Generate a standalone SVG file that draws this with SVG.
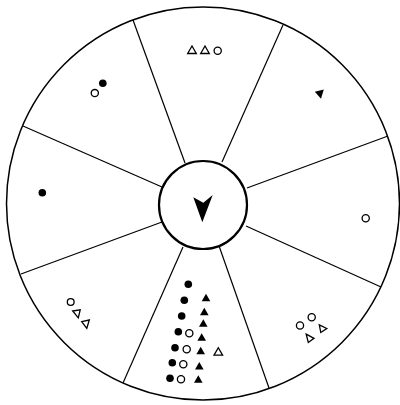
<svg xmlns="http://www.w3.org/2000/svg" xmlns:xlink="http://www.w3.org/1999/xlink" width="400" height="405" viewBox="0 0 400 405">
<style>
.ring{fill:none;stroke:#000;stroke-width:1.5}
.hub{fill:#fff;stroke:#000;stroke-width:2.2}
.spoke{stroke:#000;stroke-width:1.2;fill:none}
.fc{fill:#000}
.oc{fill:#fff;stroke:#000;stroke-width:1.3}
.ft{fill:#000}
.ot{fill:#fff;stroke:#000;stroke-width:1.3;stroke-linejoin:miter}
</style>
<defs>
<path id="tri" d="M-4.3,3.5 L4.3,3.5 L0,-4 Z"/>
</defs>
<rect width="400" height="405" fill="#fff"/>
<g id="wheel">
<circle class="ring" cx="203" cy="203.5" r="196.5"/>
</g>
<g id="connectors">
<line class="spoke" x1="185" y1="163" x2="133" y2="20"/>
<line class="spoke" x1="222" y1="162" x2="283" y2="25"/>
<line class="spoke" x1="247" y1="188" x2="388" y2="136"/>
<line class="spoke" x1="246" y1="226" x2="381" y2="287"/>
<line class="spoke" x1="218" y1="243" x2="269" y2="388"/>
<line class="spoke" x1="183" y1="247" x2="123" y2="383"/>
<line class="spoke" x1="162" y1="222" x2="21" y2="274"/>
<line class="spoke" x1="162" y1="187" x2="23" y2="126"/>
</g>
<g id="hub">
<circle class="hub" cx="203" cy="205" r="44"/>
<path d="M193.3,197.3 L203.3,202.7 L212.7,195 L202.3,222.3 Z" fill="#000"/>
</g>
<g id="sector-top">
<use href="#tri" class="ot" x="192" y="50"/>
<use href="#tri" class="ot" x="205" y="50"/>
<circle class="oc" cx="217.7" cy="50.8" r="3.6"/>
</g>
<g id="sector-top-right">
<path class="ft" d="M314.8,91.7 L323.8,89.6 L321,98.8 Z"/>
</g>
<g id="sector-right">
<circle class="oc" cx="365.7" cy="218.3" r="3.6"/>
</g>
<g id="sector-bottom-right">
<circle class="oc" cx="300" cy="325.5" r="3.6"/>
<circle class="oc" cx="311.7" cy="317.3" r="3.6"/>
<path class="ot" d="M319.3,324.8 L326.8,328.5 L320.8,332.5 Z"/>
<path class="ot" d="M306.2,334.2 L314,338.3 L308.3,342.5 Z"/>
</g>
<g id="sector-bottom">
<circle class="fc" cx="188.3" cy="284.3" r="3.8"/>
<circle class="fc" cx="184.3" cy="300.3" r="3.8"/>
<circle class="fc" cx="181.7" cy="316" r="3.8"/>
<circle class="fc" cx="178.3" cy="331.7" r="3.8"/>
<circle class="fc" cx="175" cy="347.7" r="3.8"/>
<circle class="fc" cx="172.3" cy="362.7" r="3.8"/>
<circle class="fc" cx="170" cy="378.3" r="3.8"/>
<circle class="oc" cx="189.3" cy="333.3" r="3.6"/>
<circle class="oc" cx="186.7" cy="349.3" r="3.6"/>
<circle class="oc" cx="183.3" cy="364.3" r="3.6"/>
<circle class="oc" cx="181" cy="379.3" r="3.6"/>
<use href="#tri" class="ft" x="206" y="297.7"/>
<use href="#tri" class="ft" x="204.3" y="311.7"/>
<use href="#tri" class="ft" x="203.3" y="323.3"/>
<use href="#tri" class="ft" x="201.7" y="337.3"/>
<use href="#tri" class="ft" x="200.7" y="350.7"/>
<use href="#tri" class="ft" x="199.3" y="366"/>
<use href="#tri" class="ft" x="198.3" y="379.3"/>
<use href="#tri" class="ot" x="218.3" y="351.7"/>
</g>
<g id="sector-bottom-left">
<circle class="oc" cx="70.7" cy="302" r="3.4"/>
<path class="ot" d="M72.7,311 L80.2,309.8 L78.3,317.8 Z"/>
<path class="ot" d="M81.7,321.7 L89.3,320 L86.8,328.3 Z"/>
</g>
<g id="sector-left">
<circle class="fc" cx="42.3" cy="192.7" r="3.8"/>
</g>
<g id="sector-top-left">
<circle class="fc" cx="102.8" cy="83.2" r="3.8"/>
<circle class="oc" cx="94.8" cy="93.1" r="3.6"/>
</g>
</svg>
